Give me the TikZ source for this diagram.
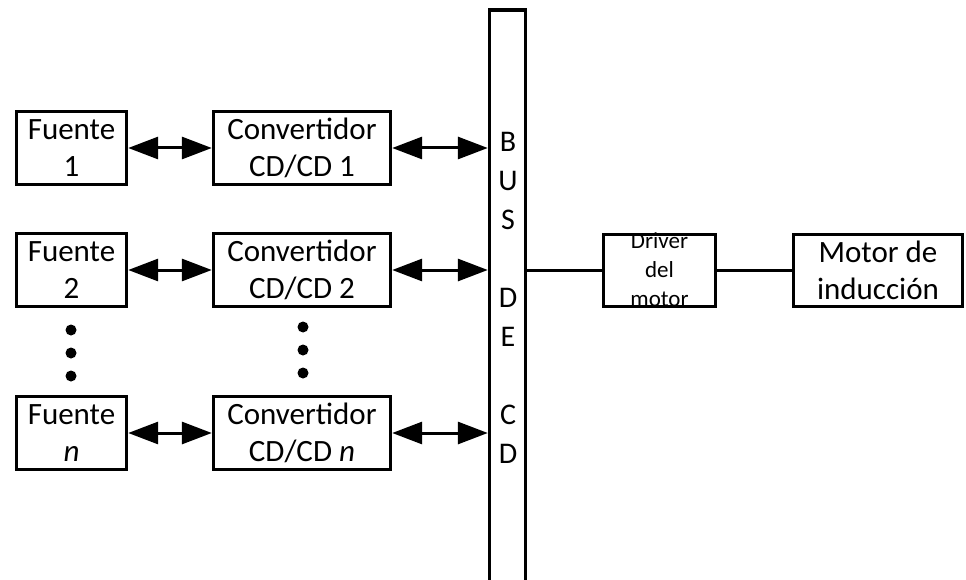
\documentclass[tikz,border=0pt]{standalone}
\usepackage{fontspec}
\setmainfont{Carlito}
\usetikzlibrary{arrows.meta}
\tikzset{
  blockbox/.style={draw=black, line width=3.4pt, inner sep=0pt, align=center,
    font=\fontsize{31}{37}\selectfont},
  fuentebox/.style={blockbox, minimum width=110pt, minimum height=73pt},
  convbox/.style={blockbox, minimum width=177pt, minimum height=73pt},
  biarrow/.style={line width=3pt, {Triangle[length=30pt,width=22pt]}-{Triangle[length=30pt,width=22pt]}},
  wire/.style={line width=3pt},
  dotmark/.style={circle, fill=black, inner sep=0pt, minimum size=11pt},
}
\begin{document}
\begin{tikzpicture}[x=1pt, y=-1pt]
  \useasboundingbox (0,0) rectangle (966,580);
  \clip (0,0) rectangle (966,580);

  % sources
  \node[fuentebox] (f1) at (71.5,148) {Fuente\\1};
  \node[fuentebox] (f2) at (71.5,270) {Fuente\\2};
  \node[fuentebox] (fn) at (71.5,433) {Fuente\\\textit{n}};

  % DC/DC converters
  \node[convbox] (c1) at (302,148) {Convertidor\\CD/CD 1};
  \node[convbox] (c2) at (302,270) {Convertidor\\CD/CD 2};
  \node[convbox] (cn) at (302,433) {Convertidor\\CD/CD \textit{n}};

  % ellipsis dots
  \node[dotmark] (fd1) at (71,330) {};
  \node[dotmark] (fd2) at (71,353) {};
  \node[dotmark] (fd3) at (71,376) {};
  \node[dotmark] (cd1) at (303,327) {};
  \node[dotmark] (cd2) at (303,350) {};
  \node[dotmark] (cd3) at (303,373) {};

  % DC bus
  \node[draw=black, line width=3.4pt, minimum width=36pt, minimum height=580pt,
        inner sep=0pt] (bus) at (507.5,300) {};
  \node[align=center, inner sep=0pt, font=\fontsize{30}{39}\selectfont]
        (bustext) at (508,298) {B\\U\\S\\[39pt]D\\E\\[39pt]C\\D};

  % motor driver and induction motor
  \node[inner sep=0pt, align=center, font=\fontsize{23}{29}\selectfont]
        (drvtext) at (659.5,270) {Driver\\del\\motor};
  \node[draw=black, line width=3.4pt, minimum width=112pt, minimum height=72pt,
        inner sep=0pt] (drv) at (659.5,270.5) {};
  \node[blockbox, minimum width=169pt, minimum height=72pt] (mot) at (878,270.5)
        {Motor de\\inducción};

  % connections
  \draw[biarrow] (f1.east) -- (c1.west);
  \draw[biarrow] (f2.east) -- (c2.west);
  \draw[biarrow] (fn.east) -- (cn.west);
  \draw[biarrow] (c1.east) -- (c1.east -| bus.west);
  \draw[biarrow] (c2.east) -- (c2.east -| bus.west);
  \draw[biarrow] (cn.east) -- (cn.east -| bus.west);
  \draw[wire] (drv.west -| bus.east) -- (drv.west);
  \draw[wire] (drv.east) -- (mot.west);
\end{tikzpicture}
\end{document}
